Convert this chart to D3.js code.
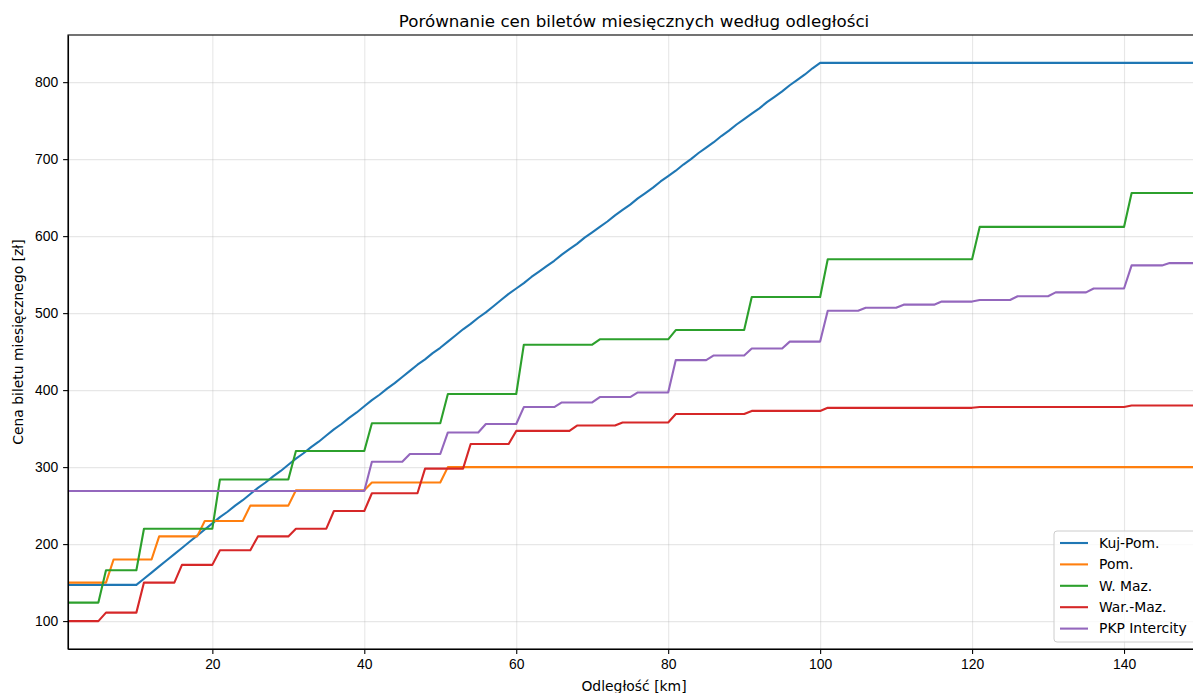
<!DOCTYPE html>
<html>
<head>
<meta charset="utf-8">
<script src="https://cdn.jsdelivr.net/npm/d3@7"></script>
<style>
  body { margin: 0; background: #fff; overflow: hidden; }
  svg { font-family: "DejaVu Sans", sans-serif; }
  .axis path, .axis line { stroke: #000; }
  .axis text { font-size: 13.9px; fill: #000; }
  .grid line { stroke: #b0b0b0; stroke-opacity: 0.3; stroke-width: 1.1; }
  .grid path { display: none; }
  .line { fill: none; stroke-width: 2.1; stroke-linejoin: round; }
</style>
</head>
<body>
<div id="chart"></div>
<script>
// Price tables: [km from which the price applies, price in zł]
var kujPom = [[1,147],[11,155],[12,163],[13,171],[14,179],[15,187],[16,195],[17,203],[18,211],[19,219],[20,227],
  [21,235],[22,242],[23,250],[24,257],[25,265],[26,273],[27,280],[28,288],[29,295],[30,303],
  [31,311],[32,318],[33,326],[34,333],[35,341],[36,349],[37,356],[38,364],[39,371],[40,379],
  [41,387],[42,394],[43,402],[44,409],[45,417],[46,425],[47,433],[48,440],[49,448],[50,455],
  [51,463],[52,471],[53,479],[54,486],[55,494],[56,501],[57,509],[58,517],[59,525],[60,532],
  [61,539],[62,547],[63,554],[64,561],[65,568],[66,576],[67,583],[68,590],[69,598],[70,605],
  [71,612],[72,619],[73,627],[74,634],[75,641],[76,649],[77,656],[78,663],[79,671],[80,678],
  [81,685],[82,693],[83,700],[84,708],[85,715],[86,722],[87,730],[88,737],[89,745],[90,752],
  [91,759],[92,766],[93,774],[94,781],[95,788],[96,796],[97,803],[98,810],[99,818],[100,825]];
var pom = [[1,150],[7,180],[13,210],[19,230],[25,250],[31,270],[41,280],[51,300]];
var wMaz = [[1,124],[6,166],[11,220],[21,284],[31,321],[41,357],[51,395],[61,459],[71,466],
  [81,478],[91,521],[101,570],[121,612],[141,656]];
var warMaz = [[1,100],[6,111],[11,150],[16,173],[21,192],[26,210],[31,220],[36,243],[41,266],
  [48,298],[54,330],[60,347],[68,354],[74,358],[81,369],[91,373],[101,377],[121,378],[141,380]];
var pkp = [[1,269],[41,307],[46,317],[51,345],[56,356],[61,378],[66,384],[71,391],[76,397],
  [81,439],[86,445],[91,454],[96,463],[101,503],[106,507],[111,511],[116,515],[121,517],
  [126,522],[131,527],[136,532],[141,562],[146,565]];

var seriesNames = ["Kuj-Pom.", "Pom.", "W. Maz.", "War.-Maz.", "PKP Intercity"];
var seriesTables = [kujPom, pom, wMaz, warMaz, pkp];
var colors = ["#1f77b4", "#ff7f0e", "#2ca02c", "#d62728", "#9467bd"];
var distances = d3.range(1, 151);
var xTicks = [20, 40, 60, 80, 100, 120, 140];
var yTicks = [100, 200, 300, 400, 500, 600, 700, 800];

var W = 1193, H = 693;
var margin = { top: 35, left: 68, bottom: 44 };
var plotRight = 1200;

// price at a given km: last table entry whose start km <= km
function priceAt(table, km) {
  var p = table[0][1];
  table.forEach(function (d) { if (d[0] <= km) p = d[1]; });
  return p;
}

var data = seriesTables.map(function (t, i) {
  return { name: seriesNames[i], color: colors[i],
    values: distances.map(function (km) { return { km: km, price: priceAt(t, km) }; }) };
});

var x = d3.scaleLinear().domain([1, 150]).range([margin.left, plotRight]);
var y = d3.scaleLinear().domain([63.75, 861.25]).range([H - margin.bottom, margin.top]);

var svg = d3.select("#chart").append("svg")
  .attr("width", W).attr("height", H);

svg.append("defs").append("clipPath").attr("id", "clip")
  .append("rect")
  .attr("x", margin.left).attr("y", margin.top)
  .attr("width", plotRight - margin.left).attr("height", H - margin.bottom - margin.top);

// grid
svg.append("g").attr("class", "grid")
  .attr("transform", "translate(0," + (H - margin.bottom) + ")")
  .call(d3.axisBottom(x).tickValues(xTicks).tickSize(-(H - margin.bottom - margin.top)).tickFormat(""));
svg.append("g").attr("class", "grid")
  .attr("transform", "translate(" + margin.left + ",0)")
  .call(d3.axisLeft(y).tickValues(yTicks).tickSize(-(plotRight - margin.left)).tickFormat(""));

var line = d3.line()
  .x(function (d) { return x(d.km); })
  .y(function (d) { return y(d.price); });

svg.append("g").attr("clip-path", "url(#clip)")
  .selectAll("path").data(data).enter().append("path")
  .attr("class", "line")
  .attr("stroke", function (d) { return d.color; })
  .attr("d", function (d) { return line(d.values); });

// axes
var xAxis = svg.append("g").attr("class", "axis")
  .attr("transform", "translate(0," + (H - margin.bottom) + ")")
  .call(d3.axisBottom(x).tickValues(xTicks).tickSize(4.9).tickPadding(4.9).tickSizeOuter(0));
var yAxis = svg.append("g").attr("class", "axis")
  .attr("transform", "translate(" + margin.left + ",0)")
  .call(d3.axisLeft(y).tickValues(yTicks).tickSize(4.9).tickPadding(4.9).tickSizeOuter(0));
svg.selectAll(".axis .domain").attr("stroke-width", 1.1);
svg.selectAll(".axis .tick line").attr("stroke-width", 1.1);

// frame
svg.append("rect")
  .attr("x", margin.left).attr("y", margin.top)
  .attr("width", plotRight - margin.left).attr("height", H - margin.bottom - margin.top)
  .attr("fill", "none").attr("stroke", "#000").attr("stroke-width", 1.1);

// title and labels
svg.append("text")
  .attr("x", (margin.left + plotRight) / 2).attr("y", 27)
  .attr("text-anchor", "middle").style("font-size", "16.7px")
  .text("Porównanie cen biletów miesięcznych według odległości");
svg.append("text")
  .attr("x", (margin.left + plotRight) / 2).attr("y", 691)
  .attr("text-anchor", "middle").style("font-size", "13.9px")
  .text("Odległość [km]");
svg.append("text")
  .attr("transform", "translate(23," + ((margin.top + H - margin.bottom) / 2) + ") rotate(-90)")
  .attr("text-anchor", "middle").style("font-size", "13.9px")
  .text("Cena biletu miesięcznego [zł]");

// legend
var legend = svg.append("g").attr("transform", "translate(1054,531)");
legend.append("rect")
  .attr("width", 150).attr("height", 111).attr("rx", 3)
  .attr("fill", "#fff").attr("fill-opacity", 0.8)
  .attr("stroke", "#cccccc").attr("stroke-width", 1);
var item = legend.selectAll(".item").data(data).enter().append("g")
  .attr("transform", function (d, i) { return "translate(0," + (12 + i * 21.4) + ")"; });
item.append("line")
  .attr("x1", 6).attr("x2", 34)
  .attr("stroke", function (d) { return d.color; }).attr("stroke-width", 2.1);
item.append("text")
  .attr("x", 45).attr("dy", "0.35em").style("font-size", "13.9px")
  .text(function (d) { return d.name; });
</script>
</body>
</html>
